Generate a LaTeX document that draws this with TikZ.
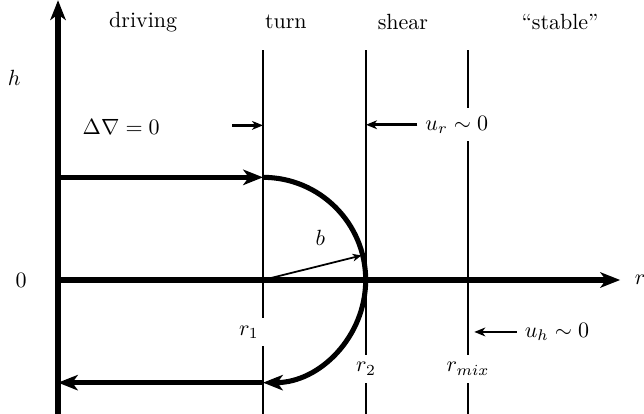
\documentclass[tikz,border=0pt]{standalone}
\usepackage{tikz}
\usetikzlibrary{arrows.meta,calc}
\tikzset{
  axis/.style={-{Stealth[length=9pt,width=7pt,inset=2.5pt]},line width=2.3pt},
  flow/.style={-{Stealth[length=9pt,width=7pt,inset=2.5pt]},line width=2.3pt},
  wall/.style={line width=1pt},
  hint/.style={-{Stealth[length=5pt,width=4pt,inset=1.5pt]},line width=1.3pt},
  spoke/.style={-{Stealth[length=4pt,width=3.5pt,inset=1.2pt]},line width=0.8pt},
  zone/.style={font=\normalsize},
  tag/.style={fill=white,inner sep=3.5pt}
}

\begin{document}
\begin{tikzpicture}
\useasboundingbox (-0.927,-2.125) rectangle (9.361,4.473);
\coordinate (o) at (0,0);
\coordinate (htop) at (0,4.47);
\coordinate (hbot) at (0,-2.2);
\coordinate (rend) at (8.98,0);
\draw[axis] (hbot) -- (htop);
\draw[axis] (o) -- (rend);
\node (rlab) at (9.3,0) {$r$};
\node (hlab) at (-0.7,3.23) {$h$};
\node (zero) at (-0.59,0) {$0$};

\coordinate (turntop) at (3.275,3.67);  \coordinate (turnbot) at (3.275,-2.2);
\coordinate (sheartop) at (4.92,3.67);  \coordinate (shearbot) at (4.92,-2.2);
\coordinate (mixtop) at (6.55,3.67);    \coordinate (mixbot) at (6.55,-2.2);
\draw[wall] (turntop) -- (turnbot);
\draw[wall] (sheartop) -- (shearbot);
\draw[wall] (mixtop) -- (mixbot);

\node[zone] (driving) at (1.36,4.12) {driving};
\node[zone] (turn) at (3.64,4.12) {turn};
\node[zone] (shear) at (5.51,4.12) {shear};
\node[zone] (stable) at (8.02,4.12) {``stable''};

\coordinate (c) at (3.275,0);
\coordinate (inl) at (0,1.64);   \coordinate (upper) at (3.275,1.64);
\coordinate (lower) at (3.275,-1.64); \coordinate (outl) at (0,-1.64);
\draw[flow] (inl) -- (upper);
\draw[flow] (upper) arc[start angle=90,end angle=-90,radius=1.64cm];
\draw[flow] (lower) -- (outl);
\path (c) ++(14:1.62) coordinate (bt);
\draw[spoke] (c) -- (bt);
\node (b) at (4.19,0.67) {$b$};

\node (grad) at (1.01,2.45) {$\Delta\nabla=0$};
\coordinate (gradfrom) at (2.78,2.47); \coordinate (gradto) at (3.275,2.47);
\draw[hint] (gradfrom) -- (gradto);

\node[tag] (ur) at (6.37,2.48) {$u_r\sim 0$};
\coordinate (urto) at (4.92,2.48);
\draw[hint] (ur.west) -- (urto);

\node[tag,fill=none] (uh) at (7.97,-0.83) {$u_h\sim 0$};
\coordinate (uhto) at (6.65,-0.83);
\draw[hint] (uh.west) -- (uhto);

\node[tag] (r1) at (3.05,-0.83) {$r_1$};
\node[tag] (r2) at (4.92,-1.42) {$r_2$};
\node[tag] (rmix) at (6.55,-1.42) {$r_{mix}$};
\end{tikzpicture}
\end{document}
